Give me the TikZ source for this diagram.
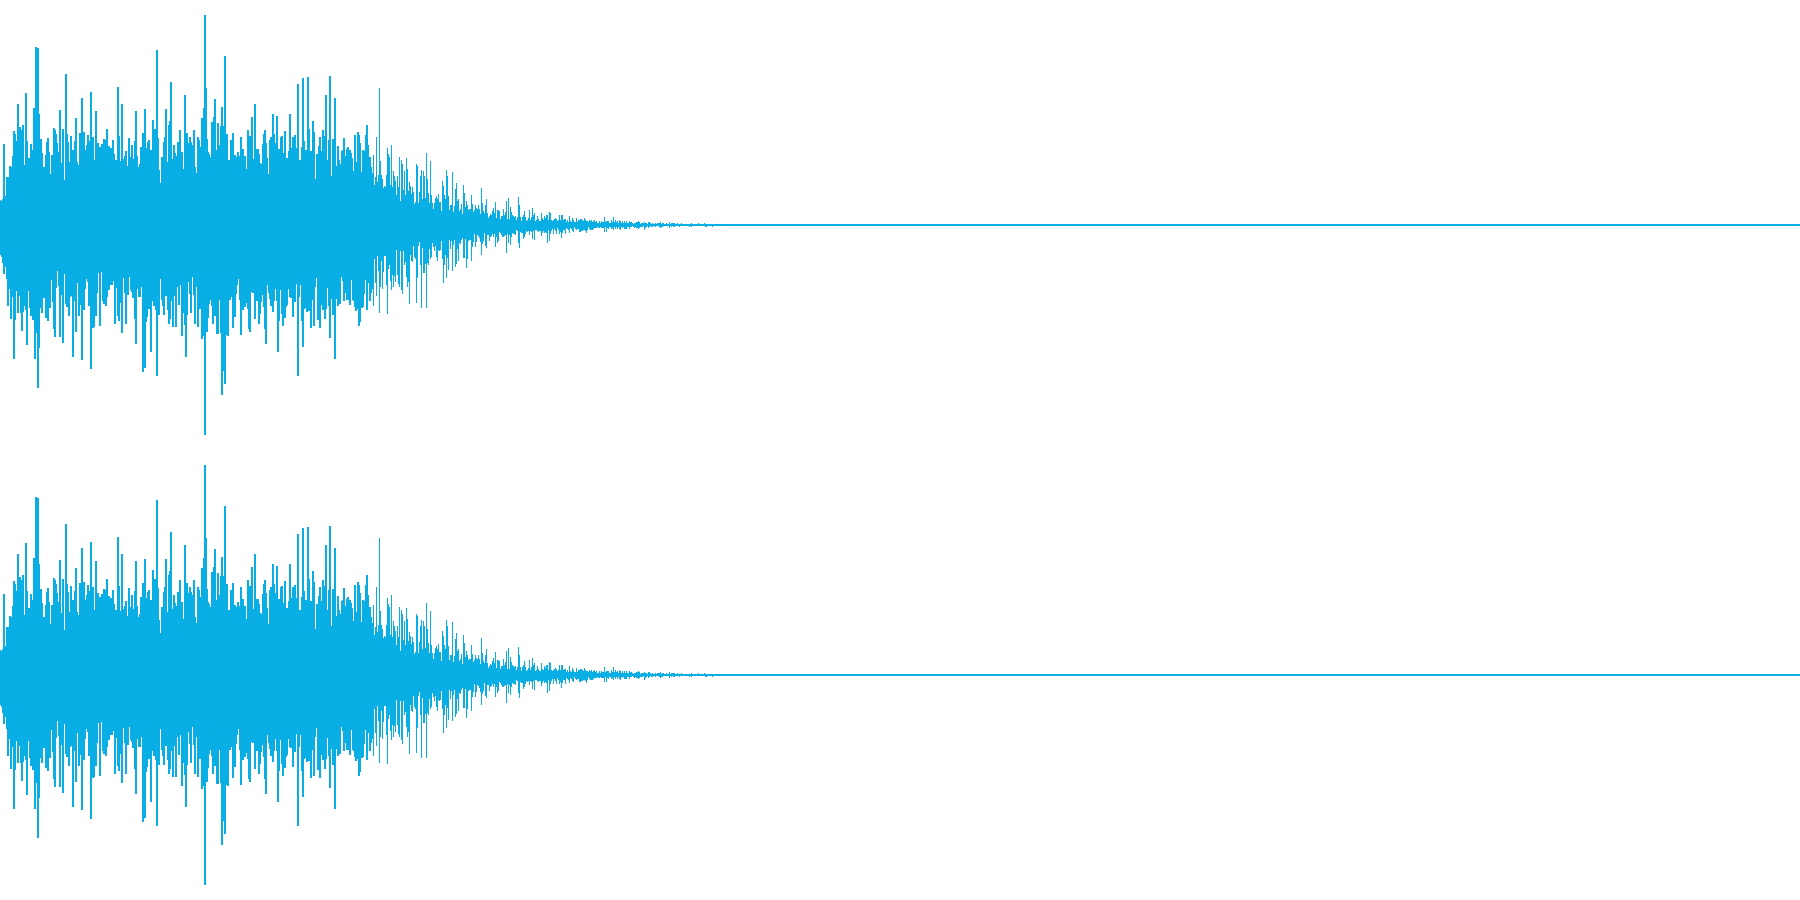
\documentclass[tikz,border=0pt]{standalone}
\definecolor{wave}{HTML}{08AEE4}
\tikzset{sample/.style={draw=wave, line width=0.4pt},
         axisline/.style={draw=wave, line width=0.3pt}}
\begin{document}
\begin{tikzpicture}
\useasboundingbox (0,0) rectangle (18,9);
% two channels, same samples
\foreach \c in {6.75,2.25}{
  \pgfmathsetseed{4242}
  \draw [axisline] (0,\c) -- (18,\c);
  \foreach \i in {0,...,760}{
    \pgfmathsetmacro\x{\i*0.01}
    \pgfmathsetmacro\env{(\x<3.7 ? (0.75+0.9*rnd*rnd+(rnd>0.9)*1.2*rnd) : 1.2*exp(-(\x-3.7)*1.3)*(0.5+rnd*rnd*1.3)) * min(1,0.35+\x*5)}
    \pgfmathsetmacro\up{min(2.1,\env*(0.5+0.5*rnd))}
    \pgfmathsetmacro\dn{min(2.1,\env*(0.5+0.5*rnd))}
    \draw [sample] (\x,\c+\up) -- (\x,\c-\dn);
  }
}
\end{tikzpicture}
\end{document}
